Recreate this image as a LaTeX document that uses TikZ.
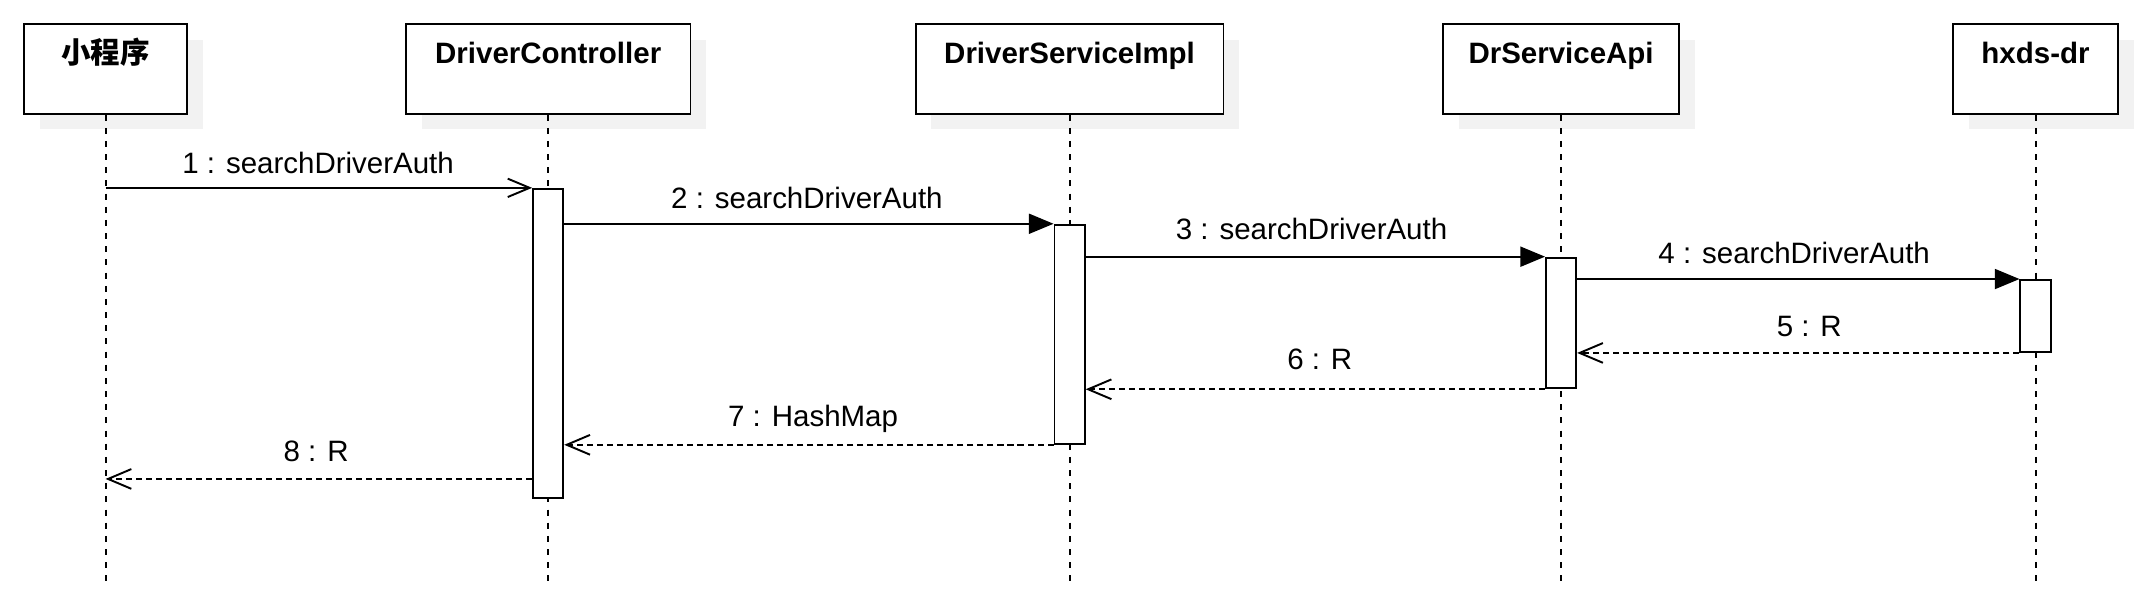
\documentclass[tikz,border=0pt]{standalone}
\usepackage{fontspec}
\setmainfont{Liberation Sans}
\newfontfamily\cjk{Noto Sans CJK SC}
\usetikzlibrary{arrows.meta,shadows,calc}
\begin{document}
\begin{tikzpicture}[x=0.5pt,y=-0.5pt,
  font=\fontsize{10.75pt}{13pt}\selectfont,
  lw/.style={line width=0.7pt},
  part/.style={draw,lw,fill=white,anchor=north west,minimum height=32.6pt,inner sep=0pt,
     drop shadow={shadow xshift=5.75pt,shadow yshift=-5.75pt,fill=black!5,opacity=1}},
  ptitle/.style={anchor=base,font=\fontsize{10.75pt}{13pt}\selectfont\bfseries},
  lifeline/.style={line width=0.75pt,dash pattern=on 2.2pt off 2.6pt},
  bar/.style={draw,lw,fill=white,anchor=north,minimum width=11pt,inner sep=0pt},
  call/.style={lw,-{Triangle[length=9pt,width=7.3pt]}},
  firstcall/.style={lw,-{Straight Barb[length=8pt,width=6.7pt]}},
  ret/.style={lw,dash pattern=on 2.2pt off 1.45pt,-{Straight Barb[length=8.5pt,width=7.2pt]}},
  lbl/.style={anchor=base}]
\fill[white] (0,0) rectangle (1568,443);
\useasboundingbox (0,0) rectangle (1568,443);
% participants
\node[part,minimum width=59.6pt] (p1) at (16.7,17) {};
\node[part,minimum width=103.8pt] (p2) at (295.3,17) {};
\node[part,minimum width=112.25pt] (p3) at (667.1,17) {};
\node[part,minimum width=86.2pt] (p4) at (1051.6,17) {};
\node[part,minimum width=60.1pt] (p5) at (1423.7,17) {};
\node[ptitle] (t1) at ($(p1.north)+(0,29)$) {\cjk\bfseries 小程序};
\node[ptitle] (t2) at ($(p2.north)+(0,29)$) {DriverController};
\node[ptitle] (t3) at ($(p3.north)+(0,29)$) {DriverServiceImpl};
\node[ptitle] (t4) at ($(p4.north)+(0,29)$) {DrServiceApi};
\node[ptitle] (t5) at ($(p5.north)+(0,29)$) {hxds-dr};
% lifelines
\foreach \p in {p1,p2,p3,p4,p5}
  \draw[lifeline] (\p.south) -- (\p.south |- 0,427);
% activation bars
\node[bar,minimum height=112.85pt] (dc) at (p2.south |- 0,137) {};
\node[bar,minimum height=79.9pt] (dsi) at (p3.south |- 0,163.2) {};
\node[bar,minimum height=47.65pt] (dsa) at (p4.south |- 0,187.2) {};
\node[bar,minimum height=26.25pt] (hx) at (p5.south |- 0,203.5) {};
% messages
\draw[firstcall] (p1.south |- dc.north) -- (dc.north west);
\draw[call] (dc.north east |- dsi.north) -- (dsi.north west);
\draw[call] (dsi.east |- dsa.north) -- (dsa.north west);
\draw[call] (dsa.east |- hx.north) -- (hx.north west);
\draw[ret] (hx.south west) -- (dsa.east |- hx.south);
\draw[ret] (dsa.south west) -- (dsi.east |- dsa.south);
\draw[ret] (dsi.south west) -- (dc.east |- dsi.south);
\coordinate (r8) at (0,349.3);
\draw[ret] (dc.west |- r8) -- (p1.south |- r8);
% labels
\node[lbl] (l1) at (232,126.4) {1 : searchDriverAuth};
\node[lbl] (l2) at (588.5,152) {2 : searchDriverAuth};
\node[lbl] (l3) at (956.5,175) {3 : searchDriverAuth};
\node[lbl] (l4) at (1308.5,192) {4 : searchDriverAuth};
\node[lbl] (l5) at (1319.5,245.5) {5 : R};
\node[lbl] (l6) at (962.5,269.8) {6 : R};
\node[lbl] (l7) at (593,310.7) {7 : HashMap};
\node[lbl] (l8) at (230.5,336.5) {8 : R};
\end{tikzpicture}
\end{document}
